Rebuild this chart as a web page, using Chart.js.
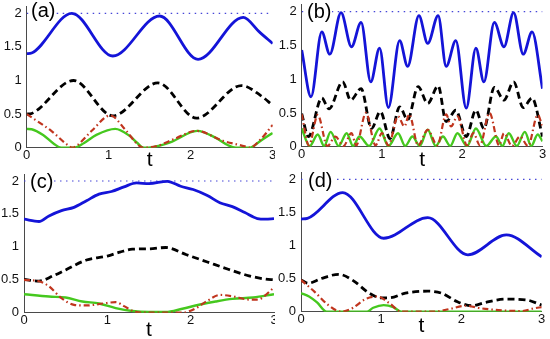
<!DOCTYPE html>
<html>
<head>
<meta charset="utf-8">
<script src="https://cdn.jsdelivr.net/npm/chart.js@4.4.1/dist/chart.umd.min.js"></script>
<style>
  body { margin: 0; background: #fff; width: 550px; height: 339px; overflow: hidden; position: relative; font-family: "Liberation Sans", Arial, sans-serif; }
  .panel { position: absolute; }
  .panel canvas { display: block; }
  .tag { position: absolute; font-size: 20px; line-height: 20px; background: #fff; padding: 0 1px; color: #000; }
</style>
</head>
<body>
<div class="panel" style="left:0;top:0;width:275px;height:170px">
  <canvas id="chartA" width="275" height="170"></canvas>
  <div class="tag" style="left:30px;top:0px">(a)</div>
</div>
<div class="panel" style="left:275px;top:0;width:275px;height:170px">
  <canvas id="chartB" width="275" height="170"></canvas>
  <div class="tag" style="left:31px;top:1px">(b)</div>
</div>
<div class="panel" style="left:0;top:170px;width:275px;height:169px">
  <canvas id="chartC" width="275" height="169"></canvas>
  <div class="tag" style="left:29px;top:1px">(c)</div>
</div>
<div class="panel" style="left:275px;top:170px;width:275px;height:169px">
  <canvas id="chartD" width="275" height="169"></canvas>
  <div class="tag" style="left:32px;top:0px">(d)</div>
</div>

<script>
// axes
const tTicks = [0, 1, 2, 3];
const yTicks = [0, 0.5, 1, 1.5, 2];
const refLine = [[0, 2], [3, 2]];

// panel (a)  [t, value]
const aBlue = [[0,1.40],[0.06,1.41],[0.55,2.00],[1.05,1.365],[1.62,1.96],[2.09,1.315],[2.64,1.94],[2.84,1.72],[3,1.55]];
const aBlack = [[0,0.50],[0.06,0.51],[0.57,1.00],[1.05,0.475],[1.6,0.965],[2.07,0.44],[2.62,0.925],[2.85,0.78],[3,0.63]];
const aRed = [[0,0.50],[0.3,0.25],[0.5,0.04],[0.56,0],[0.62,0.04],[0.8,0.26],[1.02,0.48],[1.2,0.27],[1.36,0.04],[1.42,0],[1.6,0.03],[1.8,0.13],[2.07,0.25],[2.4,0.10],[2.66,0.02],[2.72,0],[2.85,0.12],[3,0.34]];
const aGreen = [[0,0.28],[0.06,0.275],[0.2,0.19],[0.33,0.06],[0.42,0],[0.58,0],[0.7,0.07],[0.85,0.19],[1.08,0.28],[1.25,0.18],[1.35,0.07],[1.42,0],[1.52,0.005],[1.75,0.08],[2.08,0.25],[2.3,0.15],[2.45,0.04],[2.55,0],[2.72,0],[2.85,0.10],[3,0.22]];

// panel (b)
const bBlue = [[0,1.43],[0.116,0.74],[0.25,1.70],[0.35,1.37],[0.49,1.985],[0.62,1.48],[0.74,1.84],[0.86,0.96],[0.97,1.46],[1.08,0.58],[1.22,1.57],[1.32,1.19],[1.46,1.94],[1.57,1.53],[1.70,1.94],[1.80,1.19],[1.92,1.57],[2.05,0.57],[2.17,1.46],[2.27,0.96],[2.40,1.84],[2.52,1.48],[2.64,1.985],[2.76,1.37],[2.87,1.70],[3,0.86]];
const bBlack = [[0,0.49],[0.083,0.15],[0.25,0.72],[0.34,0.56],[0.51,0.96],[0.61,0.69],[0.74,0.86],[0.87,0.27],[0.98,0.52],[1.10,0.12],[1.22,0.59],[1.32,0.40],[1.45,0.89],[1.57,0.64],[1.70,0.90],[1.80,0.37],[1.92,0.54],[2.05,0.15],[2.17,0.54],[2.27,0.27],[2.40,0.88],[2.52,0.69],[2.64,0.96],[2.76,0.58],[2.87,0.72],[3,0.15]];
const bRed = [[0,0.48],[0.09,0.02],[0.2,0.47],[0.32,0.01],[0.42,0.15],[0.52,0.01],[0.62,0.20],[0.68,0.02],[0.8,0.50],[0.92,0.02],[1.0,0.20],[1.08,0.02],[1.2,0.45],[1.28,0.30],[1.34,0.48],[1.45,0.02],[1.57,0.25],[1.69,0.02],[1.8,0.48],[1.86,0.30],[1.94,0.45],[2.06,0.02],[2.14,0.20],[2.22,0.02],[2.34,0.50],[2.46,0.02],[2.52,0.20],[2.62,0.01],[2.72,0.15],[2.82,0.01],[2.94,0.47],[3,0.30]];
const bGreen = [[0,0.27],[0.1,0.01],[0.2,0.18],[0.28,0.01],[0.36,0.22],[0.46,0.01],[0.56,0.20],[0.64,0.01],[0.72,0.15],[0.84,0.01],[0.97,0.27],[1.08,0.01],[1.2,0.20],[1.29,0.01],[1.38,0.15],[1.47,0.01],[1.57,0.25],[1.67,0.01],[1.76,0.15],[1.85,0.01],[1.94,0.20],[2.06,0.01],[2.17,0.27],[2.3,0.01],[2.42,0.15],[2.5,0.01],[2.58,0.20],[2.68,0.01],[2.78,0.22],[2.86,0.01],[2.94,0.18],[3,0.08]];

// panel (c)
const cBlue = [[0,1.42],[0.18,1.385],[0.3,1.47],[0.45,1.55],[0.6,1.60],[0.75,1.70],[0.9,1.80],[1.05,1.84],[1.2,1.91],[1.35,1.97],[1.5,1.96],[1.72,1.995],[1.88,1.92],[2.03,1.87],[2.2,1.78],[2.35,1.67],[2.5,1.61],[2.65,1.52],[2.8,1.43],[2.9,1.42],[3,1.43]];
const cBlack = [[0,0.505],[0.18,0.48],[0.35,0.56],[0.5,0.65],[0.75,0.80],[1.0,0.86],[1.15,0.92],[1.3,0.965],[1.5,0.97],[1.7,0.99],[1.95,0.88],[2.2,0.77],[2.45,0.66],[2.7,0.56],[2.9,0.51],[3,0.50]];
const cRed = [[0,0.50],[0.2,0.47],[0.3,0.40],[0.45,0.22],[0.6,0.12],[0.75,0.11],[0.95,0.14],[1.1,0.16],[1.2,0.10],[1.32,0.02],[1.45,0],[1.9,0],[2.05,0.06],[2.2,0.18],[2.35,0.27],[2.5,0.25],[2.7,0.20],[2.8,0.20],[3,0.38]];
const cGreen = [[0,0.28],[0.3,0.245],[0.5,0.23],[0.7,0.17],[0.9,0.14],[1.1,0.07],[1.3,0.025],[1.5,0.01],[1.7,0.01],[1.9,0.06],[2.1,0.12],[2.3,0.17],[2.5,0.21],[2.75,0.23],[3,0.28]];

// panel (d)
const dBlue = [[0,1.40],[0.08,1.41],[0.52,1.80],[1.03,1.11],[1.58,1.42],[2.08,0.86],[2.56,1.16],[3,0.83]];
const dBlack = [[0,0.48],[0.09,0.43],[0.25,0.50],[0.47,0.565],[0.65,0.47],[0.85,0.28],[1.0,0.21],[1.1,0.21],[1.3,0.28],[1.58,0.31],[1.75,0.28],[1.95,0.15],[2.13,0.09],[2.3,0.14],[2.55,0.19],[2.8,0.18],[3,0.10]];
const dRed = [[0,0.48],[0.17,0.30],[0.34,0.10],[0.5,0],[0.65,0.06],[0.8,0.19],[0.95,0.23],[1.1,0.13],[1.25,0],[1.65,0],[1.85,0.04],[2.05,0.09],[2.25,0.05],[2.5,0.02],[2.75,0.01],[2.9,0.05],[3,0.07]];
const dGreen = [[0,0.28],[0.1,0.23],[0.2,0.14],[0.32,0],[0.82,0],[0.9,0.06],[1.03,0.10],[1.15,0.07],[1.25,0],[3,0]];

const pts = arr => arr.map(p => ({ x: p[0], y: p[1] }));

function line(arr, color, width, dash) {
    return {
        data: pts(arr),
        borderColor: color,
        borderWidth: width,
        borderDash: dash,
        pointRadius: 0,
        fill: false,
        cubicInterpolationMode: 'monotone'
    };
}

const tickFont = { family: '"Liberation Sans", Arial, sans-serif', size: 13 };

// g: yw = y axis width, xh = x axis height, top/right = padding, tb = title bottom padding
function makePanel(id, blue, black, red, green, g) {
    new Chart(document.getElementById(id), {
        type: 'line',
        data: {
            datasets: [
                line(red, '#c0351e', 2.2, [6, 3, 1.5, 3]),
                line(green, '#45c81e', 2.4, []),
                line(black, '#000000', 2.8, [7, 4]),
                line(blue, '#1414d8', 2.8, []),
                { data: pts(refLine), borderColor: '#4646d8', borderWidth: 1.2, borderDash: [1.5, 4.5], pointRadius: 0, tension: 0 }
            ]
        },
        options: {
            responsive: false,
            animation: false,
            devicePixelRatio: 1,
            layout: { padding: { top: g.top, right: g.right, left: 0, bottom: 0 } },
            plugins: { legend: { display: false }, tooltip: { enabled: false } },
            scales: {
                x: {
                    type: 'linear', min: 0, max: 3,
                    afterBuildTicks: sc => { sc.ticks = tTicks.map(v => ({ value: v })); },
                    afterFit: sc => { sc.height = g.xh; sc.paddingLeft = 0; sc.paddingRight = 0; },
                    grid: { display: false, drawTicks: false },
                    border: { display: true, color: '#4a4a4a', width: 1 },
                    ticks: { color: '#111', font: tickFont, padding: 0, maxRotation: 0, callback: v => String(v) },
                    title: { display: true, text: 't', color: '#000', font: { family: '"Liberation Sans", Arial, sans-serif', size: 21, lineHeight: 1 }, padding: { top: 0, bottom: g.tb } }
                },
                y: {
                    type: 'linear', min: 0, max: 2.1,
                    afterBuildTicks: sc => { sc.ticks = yTicks.map(v => ({ value: v })); },
                    afterFit: sc => { sc.width = g.yw; sc.paddingTop = 0; sc.paddingBottom = 0; },
                    grid: { display: false, drawTicks: false },
                    border: { display: true, color: '#4a4a4a', width: 1 },
                    ticks: { color: '#111', font: tickFont, padding: 5, callback: v => String(v) }
                }
            }
        }
    });
}

makePanel('chartA', aBlue, aBlack, aRed, aGreen, { yw: 26.7, xh: 22.3, top: 6.6, right: 2.3, tb: -1 });
makePanel('chartB', bBlue, bBlack, bRed, bGreen, { yw: 26.7, xh: 23.3, top: 4.9, right: 7.5, tb: -1 });
makePanel('chartC', cBlue, cBlack, cRed, cGreen, { yw: 24, xh: 26.3, top: 4.4, right: 1, tb: -2 });
makePanel('chartD', dBlue, dBlack, dRed, dGreen, { yw: 26, xh: 27.3, top: 2.7, right: 8.3, tb: 2 });
</script>
</body>
</html>
